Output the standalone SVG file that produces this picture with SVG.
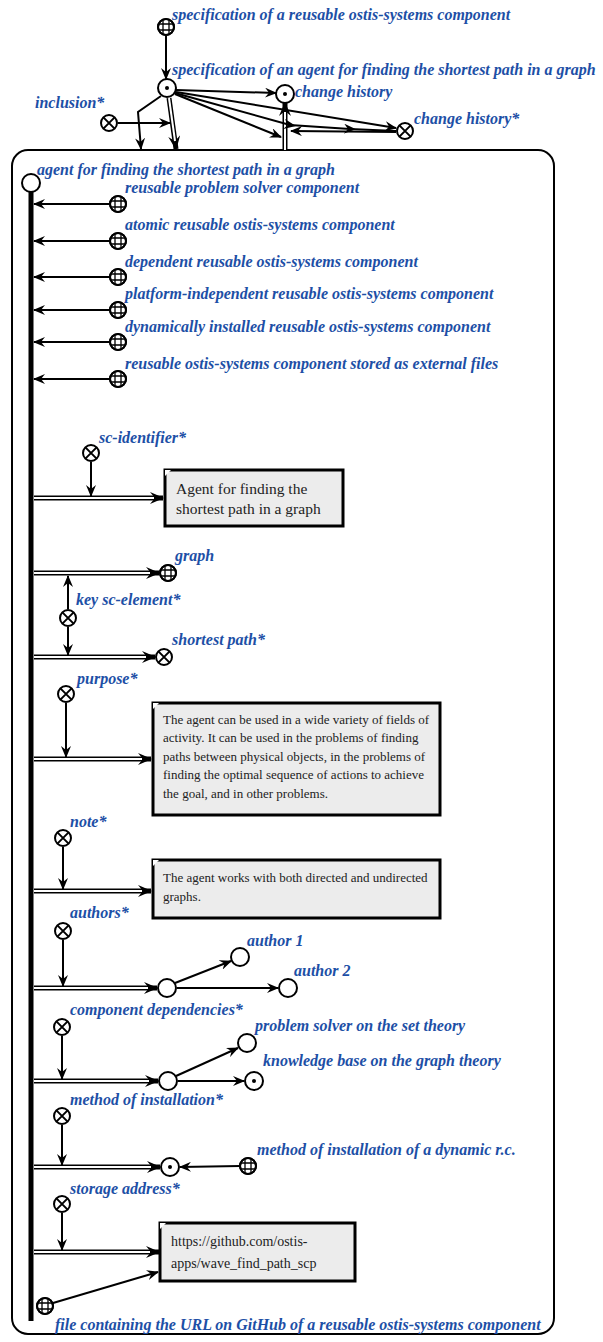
<svg xmlns="http://www.w3.org/2000/svg" width="603" height="1342" viewBox="0 0 603 1342">
  <style>
    .lbl { font-family: "Liberation Serif", "DejaVu Serif", serif; font-style: italic; font-weight: bold; font-size: 16px; fill: #1d4fa6; }
    .txt { font-family: "Liberation Serif", "DejaVu Serif", serif; font-size: 14px; fill: #222; }
    .txt-l { font-size: 15.5px; }
    .txt-s { font-size: 13px; }
    .ring { fill: #fff; stroke: #000; stroke-width: 2; }
    .thin { stroke: #000; stroke-width: 1.3; fill: none; }
    .arc { stroke: #000; stroke-width: 2; fill: none; marker-end: url(#ah); }
    .dbl { stroke: #000; stroke-width: 5; fill: none; marker-end: url(#dh); }
    .dbl-in { stroke: #fff; stroke-width: 2; fill: none; }
    .note { fill: #ececec; stroke: #000; stroke-width: 3; }
  </style>
  <defs>
    <marker id="ah" viewBox="0 0 12 10" refX="11" refY="5" markerWidth="12" markerHeight="10" markerUnits="userSpaceOnUse" orient="auto">
      <path d="M0,0 L12,5 L0,10 L4,5 z" fill="#000"/>
    </marker>
    <marker id="mh" viewBox="0 0 12 10" refX="6" refY="5" markerWidth="12" markerHeight="10" markerUnits="userSpaceOnUse" orient="auto">
      <path d="M0,0 L12,5 L0,10 L4,5 z" fill="#000"/>
    </marker>
    <marker id="dh" viewBox="0 0 14 12" refX="13" refY="6" markerWidth="14" markerHeight="12" markerUnits="userSpaceOnUse" orient="auto">
      <path d="M0,0 L14,6 L0,12 L5,6 z" fill="#000"/>
    </marker>
    <!-- class node: circle with grid -->
    <g id="cls">
      <circle r="8" class="ring"/>
      <path d="M-3,-7.3 V7.3 M3,-7.3 V7.3 M-7.3,-3 H7.3 M-7.3,3 H7.3" class="thin"/>
      <circle r="8" fill="none" stroke="#000" stroke-width="2"/>
    </g>
    <!-- relation node: circle with cross -->
    <g id="rel">
      <circle r="8" class="ring"/>
      <path d="M-5.6,-5.6 L5.6,5.6 M5.6,-5.6 L-5.6,5.6" stroke="#000" stroke-width="2"/>
    </g>
    <!-- structure node: circle with dot -->
    <g id="str">
      <circle r="9" class="ring"/>
      <circle r="2" fill="#000"/>
    </g>
    <!-- plain node -->
    <g id="pln">
      <circle r="9" class="ring"/>
    </g>
  </defs>

  <!-- contour of the agent's structure -->
  <rect id="contour" x="12" y="150" width="542" height="1184" rx="16" ry="16" fill="#fff" stroke="#000" stroke-width="2"/>

  <g id="connectors">
    <!-- top part -->
    <line x1="166" y1="36" x2="166" y2="79" class="arc"/>
    <polyline points="161,96 138,112 141,149" class="arc"/>
    <line x1="169" y1="98" x2="176" y2="149" class="dbl"/>
    <line x1="169" y1="98" x2="175" y2="141" class="dbl-in"/>
    <line x1="118" y1="123" x2="170" y2="123" class="arc"/>
    <line x1="285" y1="150" x2="285" y2="103" class="dbl"/>
    <line x1="285" y1="150" x2="285" y2="112" class="dbl-in"/>
    <line x1="176" y1="90" x2="276" y2="93" class="arc"/>
    <line x1="176" y1="92" x2="396" y2="128" class="arc"/>
    <line x1="175" y1="94" x2="281" y2="137" class="arc"/>
    <path d="M175,93 L290,125 L350,129 L396,131" stroke="#000" stroke-width="2" fill="none" marker-mid="url(#mh)"/>
    <line x1="396" y1="132" x2="291" y2="131" class="arc"/>

    <!-- vertical bus of the agent node -->
    <line x1="31" y1="191" x2="31" y2="1321" stroke="#000" stroke-width="5"/>

    <!-- class memberships -->
    <line x1="110" y1="204" x2="34" y2="204" class="arc"/>
    <line x1="110" y1="241" x2="34" y2="241" class="arc"/>
    <line x1="110" y1="277" x2="34" y2="277" class="arc"/>
    <line x1="110" y1="310" x2="34" y2="310" class="arc"/>
    <line x1="110" y1="342" x2="34" y2="342" class="arc"/>
    <line x1="110" y1="379" x2="34" y2="379" class="arc"/>

    <!-- sc-identifier -->
    <line x1="34" y1="498" x2="163" y2="498" class="dbl"/>
    <line x1="34" y1="498" x2="154" y2="498" class="dbl-in"/>
    <line x1="91" y1="462" x2="91" y2="496" class="arc"/>

    <!-- key sc-elements -->
    <line x1="34" y1="573" x2="159" y2="573" class="dbl"/>
    <line x1="34" y1="573" x2="150" y2="573" class="dbl-in"/>
    <line x1="68" y1="609" x2="68" y2="576" class="arc"/>
    <line x1="34" y1="657" x2="155" y2="657" class="dbl"/>
    <line x1="34" y1="657" x2="146" y2="657" class="dbl-in"/>
    <line x1="68" y1="627" x2="68" y2="655" class="arc"/>

    <!-- purpose -->
    <line x1="34" y1="759" x2="151" y2="759" class="dbl"/>
    <line x1="34" y1="759" x2="142" y2="759" class="dbl-in"/>
    <line x1="66" y1="703" x2="66" y2="757" class="arc"/>

    <!-- note -->
    <line x1="34" y1="891" x2="151" y2="891" class="dbl"/>
    <line x1="34" y1="891" x2="142" y2="891" class="dbl-in"/>
    <line x1="63" y1="847" x2="63" y2="889" class="arc"/>

    <!-- authors -->
    <line x1="34" y1="988" x2="157" y2="988" class="dbl"/>
    <line x1="34" y1="988" x2="148" y2="988" class="dbl-in"/>
    <line x1="63" y1="940" x2="63" y2="986" class="arc"/>
    <line x1="175" y1="983" x2="231" y2="961" class="arc"/>
    <line x1="177" y1="988" x2="278" y2="988" class="arc"/>

    <!-- component dependencies -->
    <line x1="34" y1="1081" x2="158" y2="1081" class="dbl"/>
    <line x1="34" y1="1081" x2="149" y2="1081" class="dbl-in"/>
    <line x1="62" y1="1036" x2="62" y2="1079" class="arc"/>
    <line x1="176" y1="1076" x2="238" y2="1048" class="arc"/>
    <line x1="178" y1="1081" x2="244" y2="1081" class="arc"/>

    <!-- method of installation -->
    <line x1="34" y1="1167" x2="160" y2="1167" class="dbl"/>
    <line x1="34" y1="1167" x2="151" y2="1167" class="dbl-in"/>
    <line x1="62" y1="1125" x2="62" y2="1165" class="arc"/>
    <line x1="240" y1="1166" x2="180" y2="1167" class="arc"/>

    <!-- storage address -->
    <line x1="34" y1="1252" x2="159" y2="1252" class="dbl"/>
    <line x1="34" y1="1252" x2="150" y2="1252" class="dbl-in"/>
    <line x1="62" y1="1213" x2="62" y2="1250" class="arc"/>
    <line x1="53" y1="1303" x2="158" y2="1272" class="arc"/>
  </g>

  <!-- top nodes -->
  <g id="n-spec-component">
    <use href="#cls" x="166" y="27"/>
    <text class="lbl" x="172" y="20">specification of a reusable ostis-systems component</text>
  </g>
  <g id="n-spec-agent">
    <use href="#str" x="167" y="88"/>
    <text class="lbl" x="172" y="75">specification of an agent for finding the shortest path in a graph</text>
  </g>
  <g id="n-change-history">
    <use href="#str" x="285" y="94"/>
    <text class="lbl" x="295" y="97">change history</text>
  </g>
  <g id="n-change-history-rel">
    <use href="#rel" x="405" y="131"/>
    <text class="lbl" x="414" y="124">change history*</text>
  </g>
  <g id="n-inclusion">
    <use href="#rel" x="109" y="123"/>
    <text class="lbl" x="35" y="108">inclusion*</text>
  </g>

  <!-- agent node -->
  <g id="n-agent">
    <use href="#pln" x="31" y="183"/>
    <text class="lbl" x="37" y="175">agent for finding the shortest path in a graph</text>
  </g>

  <!-- classes -->
  <g id="n-problem-solver-component">
    <use href="#cls" x="118" y="204"/>
    <text class="lbl" x="125" y="193">reusable problem solver component</text>
  </g>
  <g id="n-atomic">
    <use href="#cls" x="118" y="241"/>
    <text class="lbl" x="125" y="230">atomic reusable ostis-systems component</text>
  </g>
  <g id="n-dependent">
    <use href="#cls" x="118" y="277"/>
    <text class="lbl" x="125" y="267">dependent reusable ostis-systems component</text>
  </g>
  <g id="n-platform-independent">
    <use href="#cls" x="118" y="310"/>
    <text class="lbl" x="125" y="299">platform-independent reusable ostis-systems component</text>
  </g>
  <g id="n-dynamic">
    <use href="#cls" x="118" y="342"/>
    <text class="lbl" x="125" y="332">dynamically installed reusable ostis-systems component</text>
  </g>
  <g id="n-external-files">
    <use href="#cls" x="118" y="379"/>
    <text class="lbl" x="125" y="369">reusable ostis-systems component stored as external files</text>
  </g>

  <!-- identifier -->
  <g id="n-sc-identifier">
    <use href="#rel" x="91" y="453"/>
    <text class="lbl" x="99" y="443">sc-identifier*</text>
  </g>
  <g id="n-identifier-text">
    <rect class="note" x="165" y="470" width="178" height="56"/>
    <polygon points="165,470 171,470 165,476" fill="#fff"/>
    <text class="txt txt-l" x="176" y="494">Agent for finding the</text>
    <text class="txt txt-l" x="176" y="514">shortest path in a graph</text>
  </g>

  <!-- key elements -->
  <g id="n-graph">
    <use href="#cls" x="168" y="573"/>
    <text class="lbl" x="175" y="561">graph</text>
  </g>
  <g id="n-key-sc-element">
    <use href="#rel" x="68" y="618"/>
    <text class="lbl" x="76" y="605">key sc-element*</text>
  </g>
  <g id="n-shortest-path">
    <use href="#rel" x="164" y="657"/>
    <text class="lbl" x="172" y="645">shortest path*</text>
  </g>

  <!-- purpose -->
  <g id="n-purpose">
    <use href="#rel" x="66" y="694"/>
    <text class="lbl" x="77" y="684">purpose*</text>
  </g>
  <g id="n-purpose-text">
    <rect class="note" x="153" y="703" width="287" height="112"/>
    <polygon points="153,703 159,703 153,709" fill="#fff"/>
    <text class="txt txt-s" x="163" y="724">The agent can be used in a wide variety of fields of</text>
    <text class="txt txt-s" x="163" y="742">activity. It can be used in the problems of finding</text>
    <text class="txt txt-s" x="163" y="761">paths between physical objects, in the problems of</text>
    <text class="txt txt-s" x="163" y="779">finding the optimal sequence of actions to achieve</text>
    <text class="txt txt-s" x="163" y="798">the goal, and in other problems.</text>
  </g>

  <!-- note -->
  <g id="n-note">
    <use href="#rel" x="63" y="838"/>
    <text class="lbl" x="70" y="827">note*</text>
  </g>
  <g id="n-note-text">
    <rect class="note" x="153" y="860" width="287" height="58"/>
    <polygon points="153,860 159,860 153,866" fill="#fff"/>
    <text class="txt txt-s" x="163" y="882">The agent works with both directed and undirected</text>
    <text class="txt txt-s" x="163" y="901">graphs.</text>
  </g>

  <!-- authors -->
  <g id="n-authors">
    <use href="#rel" x="63" y="931"/>
    <text class="lbl" x="70" y="918">authors*</text>
  </g>
  <g id="n-author-set">
    <use href="#pln" x="167" y="988"/>
  </g>
  <g id="n-author-1">
    <use href="#pln" x="240" y="957"/>
    <text class="lbl" x="247" y="946">author 1</text>
  </g>
  <g id="n-author-2">
    <use href="#pln" x="288" y="988"/>
    <text class="lbl" x="294" y="976">author 2</text>
  </g>

  <!-- dependencies -->
  <g id="n-component-dependencies">
    <use href="#rel" x="62" y="1027"/>
    <text class="lbl" x="70" y="1015">component dependencies*</text>
  </g>
  <g id="n-dependency-set">
    <use href="#pln" x="168" y="1081"/>
  </g>
  <g id="n-set-theory-solver">
    <use href="#pln" x="247" y="1043"/>
    <text class="lbl" x="255" y="1031">problem solver on the set theory</text>
  </g>
  <g id="n-graph-theory-kb">
    <use href="#str" x="254" y="1081"/>
    <text class="lbl" x="263" y="1066">knowledge base on the graph theory</text>
  </g>

  <!-- installation -->
  <g id="n-method-of-installation">
    <use href="#rel" x="62" y="1116"/>
    <text class="lbl" x="70" y="1105">method of installation*</text>
  </g>
  <g id="n-installation-method">
    <use href="#str" x="170" y="1167"/>
  </g>
  <g id="n-dynamic-installation">
    <use href="#cls" x="248" y="1166"/>
    <text class="lbl" x="257" y="1155">method of installation of a dynamic r.c.</text>
  </g>

  <!-- storage -->
  <g id="n-storage-address">
    <use href="#rel" x="62" y="1204"/>
    <text class="lbl" x="70" y="1194">storage address*</text>
  </g>
  <g id="n-url">
    <rect class="note" x="160" y="1223" width="195" height="58"/>
    <polygon points="160,1223 166,1223 160,1229" fill="#fff"/>
    <text class="txt" x="171" y="1246">https://github.com/ostis-</text>
    <text class="txt" x="171" y="1268">apps/wave_find_path_scp</text>
  </g>
  <g id="n-github-file">
    <use href="#cls" x="45" y="1306"/>
    <text class="lbl" x="55" y="1330">file containing the URL on GitHub of a reusable ostis-systems component</text>
  </g>
</svg>
